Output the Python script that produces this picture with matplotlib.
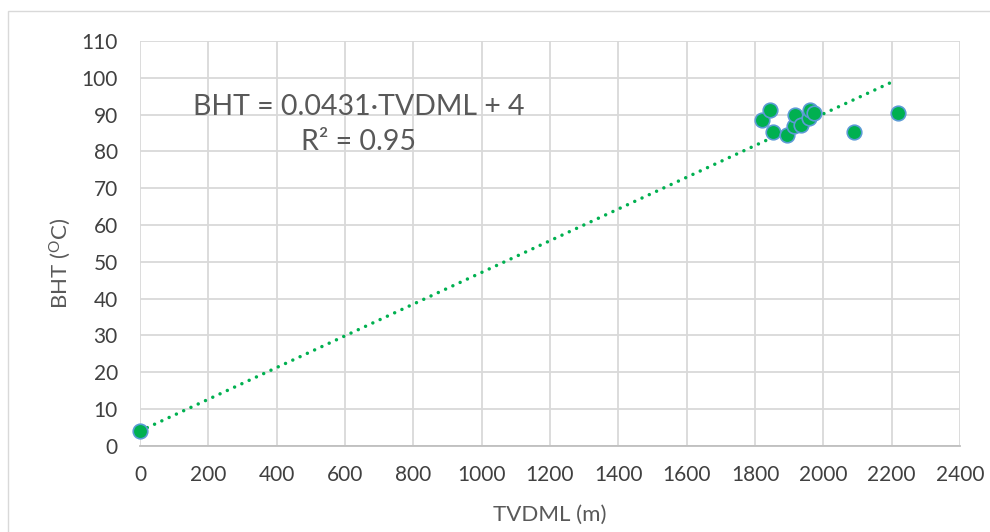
import matplotlib
matplotlib.use("Agg")
import matplotlib.pyplot as plt
from matplotlib.patches import Rectangle
import numpy as np

# Well data: true vertical depth below mud line (m) vs bottom-hole temperature (°C)
tvdml = [0, 1820, 1843, 1852, 1894, 1913, 1916, 1936, 1957, 1962, 1972, 2091, 2219]
bht = [4, 88.6, 91.3, 85.4, 84.4, 86.8, 89.8, 87.2, 89.2, 91.3, 90.3, 85.4, 90.4]

# Linear fit shown on the chart
slope = 0.0431
intercept = 4
r_squared = 0.95
fit_range = [0, 2200]

x_ticks = list(range(0, 2401, 200))
y_ticks = list(range(0, 111, 10))

plt.rcParams["font.family"] = ["Lato", "DejaVu Sans"]
plt.rcParams["mathtext.fontset"] = "custom"
plt.rcParams["mathtext.rm"] = "Lato"
plt.rcParams["mathtext.it"] = "Lato"

text_color = "#595959"
tick_color = "#404040"
grid_color = "#D9D9D9"

fig = plt.figure(figsize=(9.9, 5.32), dpi=100)
fig.patch.set_facecolor("white")

# Chart-area border
fig.patches.append(Rectangle((8 / 990, -0.1), 1.2, 1 - 11 / 532 + 0.1,
                             transform=fig.transFigure, fill=False,
                             edgecolor=grid_color, linewidth=1.0))

ax = fig.add_axes([140 / 990, 86.3 / 532, 820 / 990, (445.7 - 41) / 532])
ax.set_xlim(0, 2400)
ax.set_ylim(0, 110)
ax.set_xticks(x_ticks)
ax.set_yticks(y_ticks)
ax.grid(True, color=grid_color, linewidth=1.3)
ax.set_axisbelow(True)
for side in ["top", "right", "left"]:
    ax.spines[side].set_visible(False)
ax.spines["bottom"].set_color("#BFBFBF")
ax.spines["bottom"].set_linewidth(1.3)
ax.tick_params(length=0, labelsize=15, colors=tick_color)
ax.tick_params(axis="x", pad=14)
ax.tick_params(axis="y", pad=16)

xf = np.array(fit_range, dtype=float)
ax.plot(xf, slope * xf + intercept, color="#00B050", linewidth=2.5,
        linestyle=(0, (0.01, 2.3)), dash_capstyle="round", zorder=2)

ax.scatter(tvdml, bht, s=110, facecolor="#00B050", edgecolor="#5B9BD5",
           linewidth=1.2, zorder=3, clip_on=False)

ax.text(0.2665, 0.794, f"BHT = {slope}·TVDML + {intercept}\nR² = {r_squared}",
        transform=ax.transAxes, ha="center", va="center", fontsize=20.5,
        color=text_color, linespacing=1.42)

xl = ax.set_xlabel("TVDML (m)", fontsize=16, color=text_color)
xl.set_va("center")
ax.xaxis.set_label_coords(0.5, (445.7 - 515) / 404.7)

yl = ax.set_ylabel(r"BHT ($^{\mathrm{O}}$C)", fontsize=16, color=text_color)
yl.set_va("center")
ax.yaxis.set_label_coords((60 - 140) / 820, (445.7 - 263) / 404.7)

fig.savefig("out.png", dpi=100, facecolor="white")
